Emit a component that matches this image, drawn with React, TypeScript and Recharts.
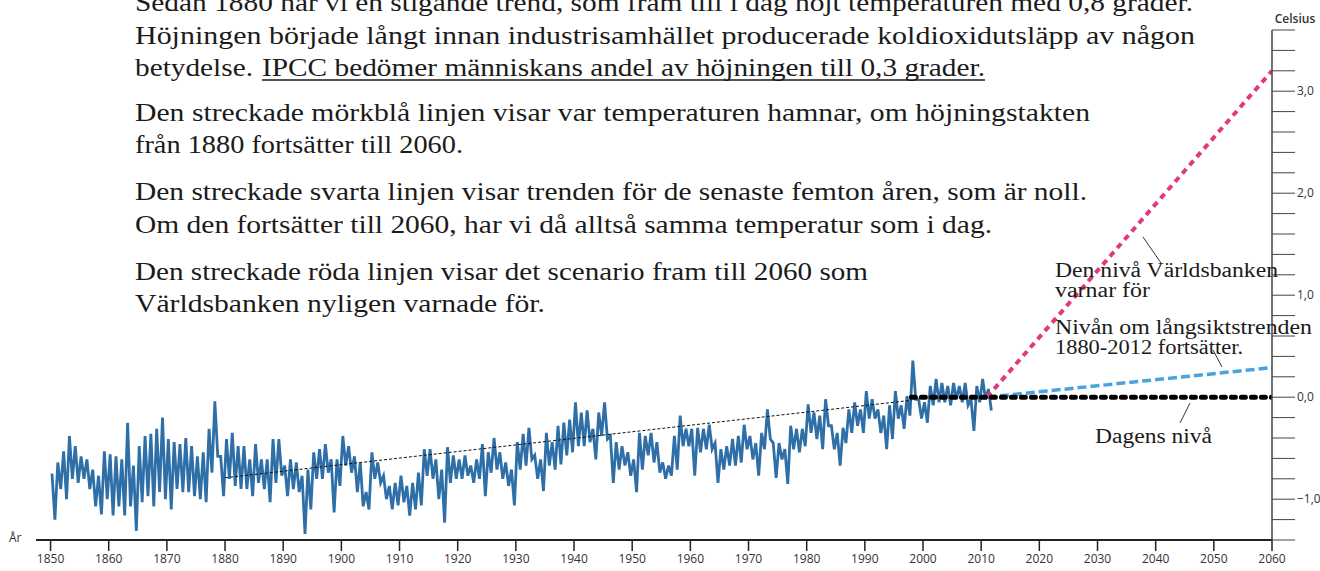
import React from 'react';
import { LineChart, Line, XAxis, YAxis } from 'recharts';

const startYear = 1850;

// upper and lower edge of the monthly temperature band, one pair per year 1850-2011
// (degrees, relative to today's level)
const tempHigh = [
  -0.75, -0.64, -0.53, -0.38, -0.48, -0.58, -0.61, -0.71, -0.77, -0.53, // 1850
  -0.56, -0.58, -0.61, -0.25, -0.67, -0.48, -0.38, -0.36, -0.31, -0.2, // 1860
  -0.41, -0.44, -0.46, -0.4, -0.48, -0.58, -0.54, -0.31, -0.04, -0.58, // 1870
  -0.41, -0.35, -0.48, -0.48, -0.61, -0.46, -0.61, -0.61, -0.41, -0.41, // 1880
  -0.67, -0.61, -0.64, -0.77, -0.71, -0.54, -0.51, -0.46, -0.61, -0.61, // 1890
  -0.38, -0.48, -0.58, -0.64, -0.93, -0.54, -0.64, -0.77, -0.87, -0.84, // 1900
  -0.77, -0.87, -0.84, -0.74, -0.51, -0.51, -0.61, -0.71, -0.49, -0.57, // 1910
  -0.61, -0.57, -0.67, -0.61, -0.46, -0.54, -0.4, -0.54, -0.64, -0.71, // 1920
  -0.44, -0.36, -0.3, -0.57, -0.61, -0.35, -0.44, -0.28, -0.25, -0.22, // 1930
  -0.05, -0.15, -0.13, -0.31, -0.15, -0.05, -0.38, -0.44, -0.48, -0.54, // 1940
  -0.61, -0.35, -0.38, -0.35, -0.44, -0.64, -0.67, -0.38, -0.18, -0.31, // 1950
  -0.31, -0.3, -0.31, -0.27, -0.45, -0.51, -0.48, -0.41, -0.38, -0.27, // 1960
  -0.38, -0.45, -0.35, -0.12, -0.45, -0.45, -0.51, -0.28, -0.31, -0.31, // 1970
  -0.07, -0.15, -0.18, -0.02, -0.28, -0.35, -0.3, -0.12, -0.05, -0.12, // 1980
  0.06, -0.02, -0.12, -0.18, -0.08, 0.06, -0.08, 0.01, 0.36, -0.02, // 1990
  -0.05, 0.11, 0.18, 0.14, 0.11, 0.14, 0.11, 0.14, -0.02, 0.11, // 2000
  0.18, 0.08, // 2010
];

const tempLow = [
  -1.2, -0.9, -1.0, -0.8, -0.84, -0.8, -0.9, -1.07, -1.15, -1.0, // 1850
  -1.16, -1.07, -1.16, -1.07, -1.31, -1.03, -0.97, -1.07, -0.93, -1.0, // 1860
  -1.1, -0.9, -0.93, -0.93, -0.97, -1.0, -1.03, -0.74, -0.58, -0.97, // 1870
  -0.8, -0.87, -0.9, -0.9, -0.97, -0.84, -0.9, -1.03, -0.84, -0.77, // 1880
  -0.97, -0.9, -0.93, -1.34, -1.1, -0.8, -0.8, -0.74, -1.13, -0.87, // 1890
  -0.67, -0.74, -0.93, -1.07, -1.1, -0.8, -0.84, -1.0, -1.1, -1.06, // 1900
  -1.03, -1.16, -1.1, -1.06, -0.77, -0.8, -1.0, -1.23, -0.84, -0.8, // 1910
  -0.8, -0.77, -0.84, -0.8, -0.97, -0.74, -0.71, -0.8, -0.87, -1.06, // 1920
  -0.71, -0.67, -0.61, -0.8, -0.92, -0.67, -0.71, -0.66, -0.57, -0.54, // 1930
  -0.48, -0.48, -0.44, -0.61, -0.38, -0.41, -0.84, -0.71, -0.67, -0.77, // 1940
  -0.93, -0.71, -0.57, -0.64, -0.74, -0.8, -0.77, -0.71, -0.48, -0.48, // 1950
  -0.77, -0.54, -0.51, -0.51, -0.84, -0.71, -0.67, -0.67, -0.64, -0.51, // 1960
  -0.61, -0.77, -0.51, -0.41, -0.79, -0.61, -0.85, -0.51, -0.54, -0.48, // 1970
  -0.35, -0.41, -0.51, -0.28, -0.51, -0.67, -0.45, -0.35, -0.28, -0.35, // 1980
  -0.21, -0.21, -0.35, -0.51, -0.41, -0.21, -0.31, -0.18, -0.02, -0.21, // 1990
  -0.25, -0.08, -0.05, -0.05, -0.08, -0.02, -0.05, -0.08, -0.33, -0.05, // 2000
  -0.02, -0.13, // 2010
];

// thin dashed long term trend 1880-1998
const trendYears = [1880, 1998];
const trendValues = [-0.79, -0.03];
// today's level, flat trend of the last fifteen years
const todayYears = [1998, 2060];
const todayValues = [0, 0];
// long term trend 1880-2012 continued
const longYears = [2011, 2060];
const longValues = [0, 0.29];
// World Bank scenario
const bankYears = [2011, 2060];
const bankValues = [0, 3.2];

const xTicks = [1850, 1860, 1870, 1880, 1890, 1900, 1910, 1920, 1930, 1940, 1950, 1960, 1970,
  1980, 1990, 2000, 2010, 2020, 2030, 2040, 2050, 2060];
const yTicks = [-1.4, -1.2, -1.0, -0.8, -0.6, -0.4, -0.2, 0, 0.2, 0.4, 0.6, 0.8, 1.0, 1.2, 1.4,
  1.6, 1.8, 2.0, 2.2, 2.4, 2.6, 2.8, 3.0, 3.2, 3.4, 3.6];

const tempSeries = tempHigh.flatMap((hi, i) => {
  const year = startYear + i;
  return [{ year: year + 0.25, value: hi }, { year: year + 0.75, value: tempLow[i] }];
});
const toPoints = (years: number[], values: number[]) =>
  years.map((year, i) => ({ year, value: values[i] }));

const CelsiusTick = (props: any) => {
  const { x, y, payload } = props;
  const v = payload.value;
  if (Math.abs(v - Math.round(v)) > 0.01) return <g />;
  const label = v.toFixed(1).replace('.', ',').replace('-', '\u2212');
  return (
    <text x={x} y={y} dy={4} fontSize={12} fontFamily="Open Sans" fill="#333" textAnchor="start">
      {label}
    </text>
  );
};

const serif = 'Liberation Serif';
const ink = '#1b1b1b';

const Para = ({ x, y, w, children, size = 26 }: any) => (
  <text x={x} y={y} fontFamily={serif} fontSize={size} fill={ink} textLength={w} lengthAdjust="spacingAndGlyphs">
    {children}
  </text>
);

export default function App() {
  return (
    <div style={{ position: 'absolute', left: 0, top: 0, width: 1320, height: 571, background: '#fff' }}>
      <LineChart width={1320} height={571} margin={{ top: 30, right: 0, left: 36, bottom: 0 }}>
        <XAxis
          dataKey="year"
          type="number"
          domain={[1847.5, 2060]}
          ticks={xTicks}
          interval={0}
          allowDataOverflow
          height={31}
          tickSize={11}
          tickMargin={3}
          axisLine={{ stroke: '#222', strokeWidth: 2 }}
          tickLine={{ stroke: '#222', strokeWidth: 1.5 }}
          tick={{ fontSize: 12, fontFamily: 'Open Sans', fill: '#333' }}
        />
        <YAxis
          orientation="right"
          type="number"
          domain={[-1.4, 3.6]}
          ticks={yTicks}
          interval={0}
          allowDataOverflow
          width={48}
          tickSize={23}
          tickMargin={2}
          axisLine={{ stroke: '#444', strokeWidth: 1.5 }}
          tickLine={{ stroke: '#444', strokeWidth: 1 }}
          tick={<CelsiusTick />}
        />
        <Line data={tempSeries} dataKey="value" type="linear" stroke="#2f6fa7" strokeWidth={2.8}
          dot={false} isAnimationActive={false} />
        <Line data={toPoints(trendYears, trendValues)} dataKey="value" type="linear" stroke="#111"
          strokeWidth={1} strokeDasharray="3 2" dot={false} isAnimationActive={false} />
        <Line data={toPoints(longYears, longValues)} dataKey="value" type="linear" stroke="#4aa3de"
          strokeWidth={3.5} strokeDasharray="9 4" dot={false} isAnimationActive={false} />
        <Line data={toPoints(bankYears, bankValues)} dataKey="value" type="linear" stroke="#e2387f"
          strokeWidth={4} strokeDasharray="6 5" dot={false} isAnimationActive={false} />
        <Line data={toPoints(todayYears, todayValues)} dataKey="value" type="linear" stroke="#000"
          strokeWidth={5} strokeDasharray="4 6" strokeLinecap="round" dot={false} isAnimationActive={false} />
      </LineChart>

      <svg width={1320} height={571} style={{ position: 'absolute', left: 0, top: 0, pointerEvents: 'none' }}>
        <Para x={135} y={11} w={1058}>Sedan 1880 har vi en stigande trend, som fram till i dag höjt temperaturen med 0,8 grader.</Para>
        <Para x={135} y={44} w={1060}>Höjningen började långt innan industrisamhället producerade koldioxidutsläpp av någon</Para>
        <Para x={135} y={76} w={118}>betydelse.</Para>
        <Para x={262} y={76} w={723}>IPCC bedömer människans andel av höjningen till 0,3 grader.</Para>
        <line x1={262} y1={80} x2={985} y2={80} stroke={ink} strokeWidth={1.3} />
        <Para x={135} y={121} w={955}>Den streckade mörkblå linjen visar var temperaturen hamnar, om höjningstakten</Para>
        <Para x={135} y={153} w={328}>från 1880 fortsätter till 2060.</Para>
        <Para x={135} y={200} w={952}>Den streckade svarta linjen visar trenden för de senaste femton åren, som är noll.</Para>
        <Para x={135} y={233} w={857}>Om den fortsätter till 2060, har vi då alltså samma temperatur som i dag.</Para>
        <Para x={135} y={280} w={733}>Den streckade röda linjen visar det scenario fram till 2060 som</Para>
        <Para x={135} y={312} w={410}>Världsbanken nyligen varnade för.</Para>

        <line x1={1143} y1={237} x2={1161} y2={263} stroke="#333" strokeWidth={1} />
        <Para x={1055} y={277} w={223} size={20}>Den nivå Världsbanken</Para>
        <Para x={1055} y={297} w={95} size={20}>varnar för</Para>
        <line x1={1213} y1={350} x2={1222} y2={367} stroke="#333" strokeWidth={1} />
        <Para x={1055} y={334} w={257} size={20}>Nivån om långsiktstrenden</Para>
        <Para x={1055} y={354} w={188} size={20}>1880-2012 fortsätter.</Para>
        <line x1={1190} y1={403} x2={1180} y2={423} stroke="#333" strokeWidth={1} />
        <Para x={1095} y={443} w={117} size={20}>Dagens nivå</Para>

        <text x={1295} y={23} fontSize={12} fontFamily="Open Sans" fontWeight={600} fill="#333" textAnchor="middle">Celsius</text>
        <text x={9} y={542} fontSize={12} fontFamily="Open Sans" fill="#333">År</text>
      </svg>
    </div>
  );
}
